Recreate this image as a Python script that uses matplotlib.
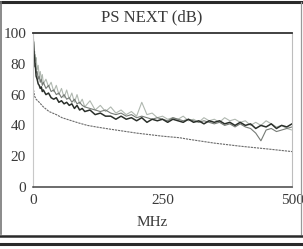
import matplotlib
matplotlib.use("Agg")
import matplotlib.pyplot as plt
from matplotlib.lines import Line2D

# ---- data ----
freq = [1, 2, 3, 4, 5, 6, 8, 10, 12, 14, 16, 18, 20,
        25, 30, 35, 40, 45, 50, 55, 60, 65, 70, 75, 80, 85, 90, 95, 100,
        110, 120, 130, 140, 150, 160, 170, 180, 190, 200, 210, 220, 230, 240,
        250, 260, 270, 280, 290, 300, 310, 320, 330, 340, 350, 360, 370, 380,
        390, 400, 410, 420, 430, 440, 450, 460, 470, 480, 490, 500]

pair_dark = [94, 86, 84, 79, 77, 72, 70, 67, 66, 64, 65, 62, 63,
             60, 61, 58, 57, 58, 55, 56, 54, 55, 53, 54, 51, 53, 50, 51, 49,
             50, 47, 48, 46, 46, 44, 46, 44, 45, 43, 45, 42, 44, 43,
             44, 42, 44, 43, 42, 44, 42, 43, 41, 43, 42, 43, 41, 42,
             40, 42, 40, 41, 38, 40, 39, 41, 38, 40, 39, 41]

pair_mid = [90, 85, 88, 78, 80, 74, 75, 70, 72, 68, 70, 66, 68,
            64, 66, 62, 63, 60, 61, 58, 60, 57, 58, 55, 57, 54, 55, 53, 52,
            51, 50, 49, 50, 48, 47, 48, 46, 47, 45, 46, 45, 44, 45,
            44, 43, 45, 44, 43, 44, 43, 42, 43, 42, 41, 42, 40, 41,
            39, 41, 39, 38, 35, 30, 37, 38, 36, 37, 38, 39]

pair_light = [96, 92, 85, 86, 82, 84, 76, 79, 72, 75, 70, 73, 67,
              70, 65, 68, 62, 66, 60, 64, 58, 63, 57, 61, 55, 60, 54, 57, 52,
              56, 50, 53, 49, 52, 48, 50, 47, 49, 46, 55, 47, 48, 45,
              46, 44, 45, 44, 46, 43, 44, 42, 45, 43, 44, 42, 45, 43,
              44, 42, 43, 40, 42, 40, 43, 41, 39, 40, 38, 37]

limit_freq = [1, 3, 6, 12, 20, 31, 45, 56, 70, 89, 105, 122, 150, 200,
              250, 283, 300, 350, 400, 450, 500]
limit_val = [63, 59, 57, 55, 52, 49, 47, 45, 43.5, 41.5, 40, 39, 37.5, 35,
             33, 32, 31, 28.5, 26.5, 24.8, 23]

x_ticks = [0, 250, 500]
y_ticks = [0, 20, 40, 60, 80, 100]
title = "PS NEXT (dB)"
x_label = "MHz"

# ---- figure ----
W, H = 303, 249
fig = plt.figure(figsize=(W / 100, H / 100), dpi=100, facecolor="white")
serif = ["Liberation Serif", "DejaVu Serif"]
txt = "#3a3a3a"

ax = fig.add_axes([33 / W, 1 - 187 / H, (292 - 33) / W, (187 - 33) / H])
ax.set_xlim(0, 500)
ax.set_ylim(0, 99)

ax.plot(limit_freq, limit_val, color="#6a6a6a", lw=0.8, ls=(0, (2, 0.8)))
ax.plot(freq, pair_light, color="#b0b8b0", lw=0.8)
ax.plot(freq, pair_mid, color="#767b76", lw=0.8)
ax.plot(freq, pair_dark, color="#2a2f2a", lw=1.1)

ax.set_xticks(x_ticks)
ax.set_yticks(y_ticks)
ax.set_xticklabels([str(v) for v in x_ticks], fontfamily=serif, fontsize=11, color=txt)
ax.set_yticklabels([str(v) for v in y_ticks], fontfamily=serif, fontsize=11, color=txt)
ax.tick_params(axis="both", length=0)
ax.tick_params(axis="y", pad=5)
ax.tick_params(axis="x", pad=5)

ax.spines["top"].set_color("#333333")
ax.spines["top"].set_linewidth(1.3)
ax.spines["bottom"].set_color("#444444")
ax.spines["bottom"].set_linewidth(1.1)
ax.spines["left"].set_color("#c8c8c8")
ax.spines["left"].set_linewidth(0.8)
ax.spines["right"].set_color("#bdbdbd")
ax.spines["right"].set_linewidth(0.8)

fig.text(152 / W, 1 - 17 / H, title, ha="center", va="center",
         fontfamily=serif, fontsize=12, color=txt)
fig.text(152 / W, 1 - 222 / H, x_label, ha="center", va="center",
         fontfamily=serif, fontsize=11, color=txt)

# outer frame lines
def fline(x0, y0, x1, y1, lw, c):
    fig.add_artist(Line2D([x0 / W, x1 / W], [1 - y0 / H, 1 - y1 / H],
                          transform=fig.transFigure, lw=lw, color=c))

fline(0, 2, W, 2, 2.2, "#2a2a2a")
fline(1, 2, 1, 234, 1.2, "#777777")
fline(300.5, 2, 300.5, 234, 0.9, "#999999")
fline(0, 236, W, 236, 1.8, "#2a2a2a")
fline(0, 243.5, W, 243.5, 2.2, "#2a2a2a")

fig.savefig("out.png", dpi=100, facecolor="white")
